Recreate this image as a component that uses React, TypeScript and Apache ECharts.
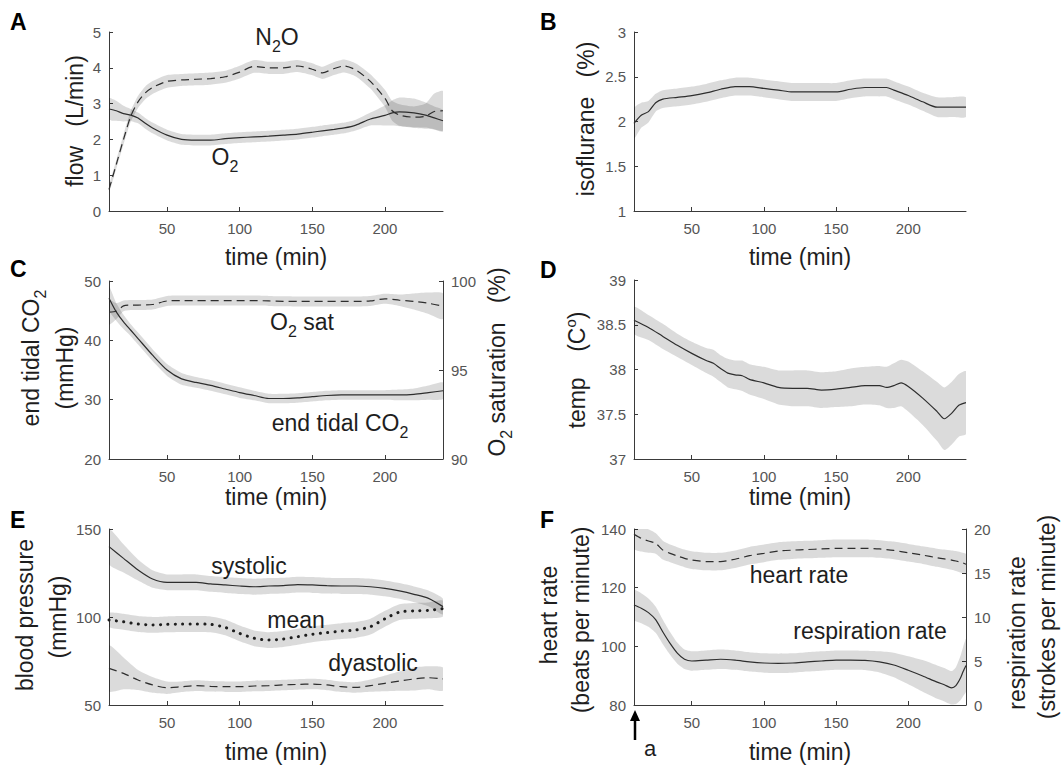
import React, { useEffect, useRef } from "react";
import * as echarts from "echarts";

// ---------- DATA ----------
const xTicks = [50, 100, 150, 200];

// Panel A: gas flow (L/min)
const tA = [10, 15, 20, 25, 30, 35, 40, 50, 60, 70, 80, 90, 100, 110, 120, 130, 140, 150, 157, 165, 172, 180, 190, 200, 205, 210, 220, 228, 234, 240];
const n2o = [0.6, 1.3, 2.0, 2.65, 3.05, 3.3, 3.45, 3.62, 3.66, 3.68, 3.7, 3.75, 3.88, 4.04, 4.0, 4.0, 4.05, 3.96, 3.86, 3.98, 4.05, 3.94, 3.62, 3.15, 2.8, 2.68, 2.62, 2.65, 2.78, 2.8];
const n2oSd = [0.1, 0.12, 0.14, 0.15, 0.17, 0.18, 0.18, 0.18, 0.17, 0.17, 0.17, 0.17, 0.18, 0.18, 0.17, 0.17, 0.17, 0.17, 0.17, 0.18, 0.18, 0.18, 0.2, 0.24, 0.28, 0.3, 0.3, 0.35, 0.5, 0.55];
const o2 = [2.85, 2.8, 2.72, 2.68, 2.6, 2.45, 2.32, 2.12, 2.0, 1.98, 1.98, 2.02, 2.05, 2.07, 2.09, 2.12, 2.15, 2.2, 2.24, 2.28, 2.32, 2.4, 2.57, 2.67, 2.74, 2.77, 2.74, 2.68, 2.6, 2.52];
const o2Sd = [0.3, 0.28, 0.22, 0.17, 0.15, 0.15, 0.15, 0.15, 0.15, 0.15, 0.15, 0.15, 0.15, 0.15, 0.15, 0.15, 0.15, 0.15, 0.15, 0.15, 0.15, 0.15, 0.18, 0.28, 0.35, 0.4, 0.4, 0.35, 0.32, 0.3];

// Panel B: isoflurane (%)
const tB = [10, 15, 20, 25, 30, 40, 50, 60, 70, 80, 90, 100, 110, 120, 130, 140, 150, 160, 170, 180, 185, 190, 200, 210, 220, 230, 240];
const iso = [1.98, 2.07, 2.11, 2.21, 2.25, 2.27, 2.29, 2.32, 2.36, 2.39, 2.39, 2.37, 2.35, 2.33, 2.33, 2.33, 2.33, 2.36, 2.38, 2.38, 2.38, 2.35, 2.29, 2.22, 2.16, 2.16, 2.16];
const isoSd = [0.17, 0.14, 0.12, 0.1, 0.1, 0.1, 0.1, 0.1, 0.1, 0.1, 0.1, 0.1, 0.1, 0.1, 0.1, 0.1, 0.1, 0.1, 0.1, 0.1, 0.1, 0.1, 0.1, 0.1, 0.11, 0.11, 0.11];

// Panel C: end tidal CO2 (mmHg) and O2 saturation (%)
const tC = [10, 15, 20, 25, 30, 40, 50, 60, 70, 80, 90, 100, 110, 120, 130, 140, 150, 160, 170, 180, 190, 200, 210, 220, 230, 240];
const etco2 = [47.1, 44.8, 43.1, 41.7, 40.3, 37.5, 35.0, 33.5, 32.9, 32.4, 31.8, 31.2, 30.7, 30.2, 30.2, 30.3, 30.5, 30.7, 30.8, 30.8, 30.8, 30.8, 30.8, 30.9, 31.2, 31.5];
const etco2Sd = [2.0, 1.5, 1.2, 1.0, 1.0, 1.0, 1.0, 1.0, 0.9, 0.9, 0.9, 0.9, 0.8, 0.8, 0.8, 0.8, 0.8, 0.8, 0.8, 0.8, 0.8, 0.8, 0.9, 1.0, 1.2, 1.4];
const o2sat = [98.25, 98.3, 98.6, 98.65, 98.65, 98.68, 98.88, 98.9, 98.9, 98.9, 98.9, 98.9, 98.9, 98.88, 98.86, 98.85, 98.85, 98.85, 98.85, 98.85, 98.88, 99.0, 98.92, 98.85, 98.75, 98.58];
const o2satSd = [0.7, 0.45, 0.3, 0.28, 0.28, 0.28, 0.28, 0.28, 0.28, 0.28, 0.28, 0.28, 0.28, 0.28, 0.28, 0.28, 0.28, 0.28, 0.28, 0.28, 0.28, 0.28, 0.32, 0.45, 0.6, 0.72];

// Panel D: temperature (C)
const tD = [10, 20, 30, 40, 50, 60, 65, 70, 75, 80, 85, 90, 100, 110, 120, 130, 140, 150, 160, 170, 180, 185, 190, 195, 200, 210, 220, 225, 230, 235, 240];
const temp = [38.55, 38.47, 38.37, 38.27, 38.18, 38.1, 38.07, 38.01, 37.96, 37.94, 37.93, 37.89, 37.85, 37.8, 37.79, 37.79, 37.77, 37.78, 37.8, 37.82, 37.82, 37.8, 37.82, 37.85, 37.81, 37.68, 37.53, 37.45, 37.51, 37.6, 37.63];
const tempSd = [0.15, 0.14, 0.14, 0.13, 0.13, 0.14, 0.15, 0.15, 0.16, 0.16, 0.17, 0.17, 0.18, 0.19, 0.2, 0.2, 0.2, 0.2, 0.21, 0.21, 0.22, 0.23, 0.25, 0.26, 0.28, 0.3, 0.33, 0.35, 0.35, 0.35, 0.35];

// Panel E: blood pressure (mmHg)
const tE = [10, 20, 30, 40, 50, 60, 70, 80, 90, 100, 110, 120, 130, 140, 150, 160, 170, 180, 190, 200, 210, 220, 230, 240];
const systolic = [140, 133.3, 126.7, 121.6, 119.7, 119.7, 119.7, 118.8, 118.2, 117.6, 117.2, 117.6, 117.8, 118.4, 118.2, 117.8, 117.6, 117.6, 117.2, 116.3, 114.8, 112.9, 110.6, 105.9];
const systolicSd = [10, 8, 6, 5, 4.5, 4.5, 4.5, 4.5, 4.5, 4.5, 4.5, 4.5, 4.5, 4.5, 4.5, 4.5, 4.5, 4.5, 4.5, 4.5, 4.5, 4.5, 4.5, 4.5];
const meanBp = [98.3, 97.3, 96, 95.5, 95.8, 96, 96, 95.8, 94.1, 90.7, 87.9, 86.9, 87.5, 88.8, 90.2, 91.1, 92, 92.6, 94.5, 99, 102.8, 103.5, 103.8, 104.8];
const meanBpSd = [4, 4.5, 4.5, 4.5, 4.5, 4.5, 4.5, 4.5, 4.5, 4.5, 4.5, 4.5, 4.5, 4.5, 4.5, 4.5, 4.5, 4.5, 4.5, 4.5, 4.5, 4.5, 4.5, 4.5];
const diastolic = [70.8, 68, 64.2, 61.4, 59.8, 60.4, 61, 60.6, 60.4, 60.4, 60.8, 61, 61.4, 61.7, 61.9, 61.4, 60.4, 60, 61, 62.3, 63.6, 64.8, 65.5, 64.8];
const diastolicSd = [13, 9, 5.7, 4.5, 3.5, 3, 3, 3, 3, 3, 3, 3, 3, 3, 3, 3, 3, 3, 3.5, 4.5, 5.5, 6.5, 6.5, 6.5];

// Panel F: heart rate (bpm) and respiration rate (strokes/min)
const tF = [10, 15, 20, 25, 30, 35, 40, 45, 50, 60, 70, 80, 90, 100, 110, 120, 130, 140, 150, 160, 170, 180, 190, 200, 210, 220, 225, 230, 233, 236, 238, 240];
const heartRate = [138.2, 136.8, 135.9, 135.1, 132.8, 131.7, 130.8, 130, 129.4, 128.9, 128.9, 129.7, 130.9, 131.7, 132.5, 132.8, 133, 133.2, 133.4, 133.4, 133.4, 133.2, 132.7, 131.9, 131.1, 130.2, 129.8, 129.4, 129.1, 128.7, 128.4, 128];
const heartRateSd = [5, 4.5, 4, 3.5, 3.2, 3, 3, 3, 3, 3, 3, 3, 3, 3, 3, 3, 3, 3, 3, 3, 3, 3, 3, 3, 3, 3.1, 3.2, 3.3, 3.4, 3.5, 3.5, 3.5];
const respRate = [11.36, 11.0, 10.5, 9.7, 8.3, 7.0, 5.9, 5.2, 5.0, 5.1, 5.2, 5.1, 4.9, 4.77, 4.73, 4.77, 4.9, 5.0, 5.1, 5.1, 5.07, 4.9, 4.55, 3.95, 3.3, 2.6, 2.3, 1.95, 2.2, 3.0, 3.8, 4.5];
const respRateSd = [1.7, 1.7, 1.6, 1.5, 1.4, 1.3, 1.2, 1.1, 1.1, 1.1, 1.1, 1.1, 1.1, 1.1, 1.1, 1.1, 1.1, 1.1, 1.1, 1.1, 1.1, 1.2, 1.4, 1.6, 1.8, 1.9, 1.9, 1.9, 2.1, 2.5, 2.8, 3.0];

// ---------- STYLE ----------
const FONT = "Liberation Sans, Arial, sans-serif";
const AXIS_COLOR = "#3a3a3a";
const LINE_COLOR = "#2e2e2e";
const BAND_COLOR = "rgba(0,0,0,0.14)";
const LABEL_COLOR = "#1e1e1e";

const grids = [
  { left: 109, top: 32, width: 334, height: 179 },
  { left: 634, top: 32, width: 332, height: 179 },
  { left: 109, top: 281, width: 334, height: 178 },
  { left: 634, top: 280, width: 332, height: 179 },
  { left: 109, top: 529, width: 334, height: 176 },
  { left: 634, top: 529, width: 332, height: 176 },
];
const nameGaps = [34, 34, 26, 26, 35, 35];

const SMOOTH = 0.25;

// Shaded band (mean ± sd), drawn as one polygon through the axes' scales
function bandSeries(id: string, xi: number, yi: number, t: number[], m: number[], s: number[]) {
  const data = t.map((x, i) => [x, m[i] - s[i], m[i] + s[i]]);
  return {
    type: "custom", name: id + "-band", xAxisIndex: xi, yAxisIndex: yi, silent: true, z: 1, clip: true,
    data,
    encode: { x: 0, y: [1, 2] },
    renderItem: (params: any, api: any) => {
      if (params.dataIndex !== 0) return null;
      const upper = data.map((d) => api.coord([d[0], d[2]]));
      const lower = data.map((d) => api.coord([d[0], d[1]])).reverse();
      return {
        type: "polygon",
        shape: { points: upper.concat(lower), smooth: 0.2 },
        style: { fill: BAND_COLOR, stroke: "none" },
      };
    },
  };
}

function lineSeries(id: string, xi: number, yi: number, t: number[], m: number[], style: any) {
  return {
    type: "line", name: id, xAxisIndex: xi, yAxisIndex: yi,
    data: t.map((x, i) => [x, m[i]]), symbol: "none", smooth: SMOOTH, silent: true, z: 3,
    lineStyle: { color: LINE_COLOR, width: 1.2, ...style },
  };
}

const SOLID = { type: "solid" };
const DASHED = { type: [8, 5] };
const DOTTED = { type: [0.1, 7.3], width: 3, cap: "round", color: "#1e1e1e" };

function xAxis(i: number) {
  return {
    type: "value", gridIndex: i, min: 10, max: 240,
    axisLine: { show: true, onZero: false, lineStyle: { color: AXIS_COLOR, width: 1 } },
    axisTick: { show: true, inside: true, length: 4, customValues: xTicks, lineStyle: { color: AXIS_COLOR } },
    axisLabel: { show: true, customValues: xTicks, color: "#555", fontSize: 15, fontFamily: FONT, margin: 10 },
    splitLine: { show: false },
    name: "time (min)", nameLocation: "middle", nameGap: nameGaps[i],
    nameTextStyle: { fontSize: 23, color: LABEL_COLOR, fontFamily: FONT },
  };
}

function yAxis(gi: number, min: number, max: number, interval: number, position = "left") {
  return {
    type: "value", gridIndex: gi, min, max, interval, position,
    axisLine: { show: true, onZero: false, lineStyle: { color: AXIS_COLOR, width: 1 } },
    axisTick: { show: true, inside: true, length: 4, lineStyle: { color: AXIS_COLOR } },
    axisLabel: { show: true, color: "#555", fontSize: 15, fontFamily: FONT, margin: 8 },
    splitLine: { show: false },
  };
}

const mainRich = { fontSize: 23, fontFamily: FONT, color: LABEL_COLOR };
const subRich = { fontSize: 16, fontFamily: FONT, color: LABEL_COLOR, padding: [18, 0, 0, 0] };
const supRich = { fontSize: 15, fontFamily: FONT, color: LABEL_COLOR, padding: [0, 0, 14, 0] };

function label(x: number, y: number, text: string, rotate = false, align = "center", extra: any = {}) {
  return {
    type: "text", x, y, rotation: rotate ? Math.PI / 2 : 0, silent: true,
    style: {
      text, textAlign: align, textVerticalAlign: "middle",
      rich: { a: mainRich, s: subRich, p: supRich },
      fill: LABEL_COLOR, font: `23px ${FONT}`, ...extra,
    },
  };
}

function panelLetter(x: number, y: number, t: string) {
  return {
    type: "text", x, y, silent: true,
    style: { text: t, textAlign: "left", textVerticalAlign: "middle", fill: "#000", font: `bold 23px ${FONT}` },
  };
}

export default function App() {
  const ref = useRef<HTMLDivElement>(null);
  useEffect(() => {
    if (!ref.current) return;
    const chart = echarts.init(ref.current, undefined, { renderer: "svg" });
    const option: any = {
      animation: false,
      backgroundColor: "#fff",
      grid: grids.map((g) => ({ ...g, containLabel: false })),
      xAxis: [0, 1, 2, 3, 4, 5].map((i) => xAxis(i)),
      yAxis: [
        yAxis(0, 0, 5, 1),
        yAxis(1, 1, 3, 0.5),
        yAxis(2, 20, 50, 10),
        yAxis(2, 90, 100, 5, "right"),
        yAxis(3, 37, 39, 0.5),
        yAxis(4, 50, 150, 50),
        yAxis(5, 80, 140, 20),
        yAxis(5, 0, 20, 5, "right"),
      ],
      series: [
        bandSeries("n2o", 0, 0, tA, n2o, n2oSd),
        bandSeries("o2", 0, 0, tA, o2, o2Sd),
        lineSeries("N2O", 0, 0, tA, n2o, DASHED),
        lineSeries("O2", 0, 0, tA, o2, SOLID),

        bandSeries("iso", 1, 1, tB, iso, isoSd),
        lineSeries("isoflurane", 1, 1, tB, iso, SOLID),

        bandSeries("etco2", 2, 2, tC, etco2, etco2Sd),
        bandSeries("o2sat", 2, 3, tC, o2sat, o2satSd),
        lineSeries("end tidal CO2", 2, 2, tC, etco2, SOLID),
        lineSeries("O2 sat", 2, 3, tC, o2sat, DASHED),

        bandSeries("temp", 3, 4, tD, temp, tempSd),
        lineSeries("temp", 3, 4, tD, temp, SOLID),

        bandSeries("sys", 4, 5, tE, systolic, systolicSd),
        bandSeries("mean", 4, 5, tE, meanBp, meanBpSd),
        bandSeries("dia", 4, 5, tE, diastolic, diastolicSd),
        lineSeries("systolic", 4, 5, tE, systolic, SOLID),
        lineSeries("mean", 4, 5, tE, meanBp, DOTTED),
        lineSeries("dyastolic", 4, 5, tE, diastolic, DASHED),

        bandSeries("hr", 5, 6, tF, heartRate, heartRateSd),
        bandSeries("resp", 5, 7, tF, respRate, respRateSd),
        lineSeries("heart rate", 5, 6, tF, heartRate, DASHED),
        lineSeries("respiration rate", 5, 7, tF, respRate, SOLID),
      ],
      graphic: [
        panelLetter(10, 22, "A"),
        panelLetter(540, 22, "B"),
        panelLetter(10, 269, "C"),
        panelLetter(540, 270, "D"),
        panelLetter(10, 520, "E"),
        panelLetter(540, 520, "F"),

        // in-plot labels
        label(277, 37, "{a|N}{s|2}{a|O}"),
        label(225, 157, "{a|O}{s|2}"),
        label(302, 322, "{a|O}{s|2}{a| sat}"),
        label(340, 423, "{a|end tidal CO}{s|2}"),
        label(249, 566, "systolic"),
        label(296, 620, "mean"),
        label(373, 663, "dyastolic"),
        label(799, 575, "heart rate"),
        label(870, 631, "respiration rate"),

        // y-axis names
        label(75, 121, "flow   (L/min)", true),
        label(586, 119, "isoflurane   (%)", true),
        label(31, 358, "{a|end tidal CO}{s|2}", true),
        label(65, 368, "(mmHg)", true),
        label(497, 362, "{a|O}{s|2}{a| saturation   (%)}", true),
        label(577, 370, "{a|temp    (C}{p|o}{a|)}", true),
        label(25, 615, "blood pressure", true),
        label(58, 617, "(mmHg)", true),
        label(549, 615, "heart rate", true),
        label(581, 620, "(beats per minute)", true),
        label(1017, 633, "respiration rate", true),
        label(1047, 617, "(strokes per minute)", true),

        // arrow "a"
        {
          type: "line", silent: true,
          shape: { x1: 635, y1: 740, x2: 635, y2: 718 },
          style: { stroke: "#000", lineWidth: 2.5 },
        },
        {
          type: "polygon", silent: true,
          shape: { points: [[635, 710], [630, 721], [640, 721]] },
          style: { fill: "#000" },
        },
        label(650, 748, "a", false, "center", { font: `22px ${FONT}` }),
      ],
    };
    chart.setOption(option);
    return () => chart.dispose();
  }, []);
  return (
    <div
      ref={ref}
      style={{ position: "fixed", left: 0, top: 0, width: 1063, height: 771, background: "#fff" }}
    />
  );
}
